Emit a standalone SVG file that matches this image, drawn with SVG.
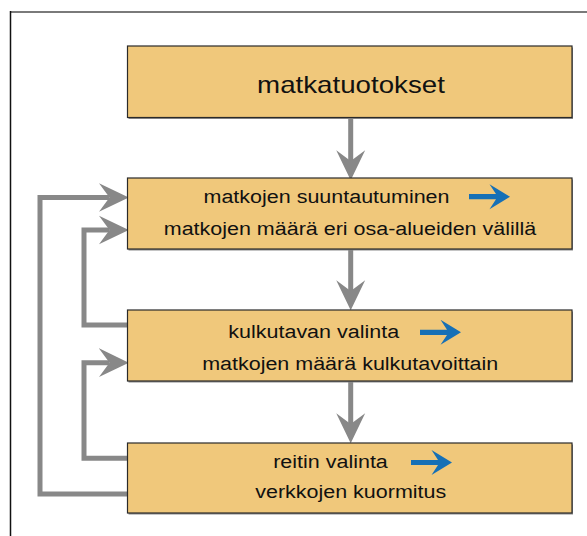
<svg xmlns="http://www.w3.org/2000/svg" width="587" height="536" viewBox="0 0 587 536">
<style>
.box{fill:#F0C87B;stroke:#2a2a2a;stroke-width:1.2}
.shadow{fill:#8a8a8a}
.t{font-family:"Liberation Sans",Arial,sans-serif;fill:#111;text-anchor:middle}
.title{font-size:23px}
.body{font-size:18px}
.conn{fill:none;stroke:#888;stroke-width:5;stroke-linejoin:miter}
</style>
<defs>
<marker id="head" markerUnits="userSpaceOnUse" markerWidth="30" markerHeight="30" viewBox="0 0 28 27" refX="10" refY="13.5" orient="auto">
<path d="M0,0 L28,13.5 L0,27 L10,13.5 Z" fill="#888"/>
</marker>
<path id="blue" d="M0,-2.6 H27 L20.5,-12.5 L41,0 L20.5,12.5 L27,2.6 H0 Z" fill="#1670B6"/>
</defs>
<rect width="587" height="536" fill="#fff"/>
<g id="frame">
<line x1="10" y1="12" x2="587" y2="12" stroke="#7a7a7a" stroke-width="2"/>
<line x1="10.5" y1="11" x2="10.5" y2="536" stroke="#111" stroke-width="1.5"/>
</g>
<g id="connectors">
<path class="conn" d="M350.7,118 V161" marker-end="url(#head)"/>
<path class="conn" d="M350.7,249 V291" marker-end="url(#head)"/>
<path class="conn" d="M350.7,381 V424" marker-end="url(#head)"/>
<path class="conn" d="M127,494 H40 V197.5 H109.5" marker-end="url(#head)"/>
<path class="conn" d="M127,325 H84 V230 H109.5" marker-end="url(#head)"/>
<path class="conn" d="M127,458.3 H84 V362.7 H109.5" marker-end="url(#head)"/>
</g>
<g id="n1">
<rect class="shadow" x="128.5" y="47.5" width="444.5" height="71.5"/>
<rect class="box" x="127.5" y="46" width="444.5" height="71.5"/>
<text class="t title" transform="translate(351,92.7) scale(1.205,1)">matkatuotokset</text>
</g>
<g id="n2">
<rect class="shadow" x="128.5" y="179.5" width="444.5" height="71"/>
<rect class="box" x="127.5" y="178" width="444.5" height="71"/>
<text class="t body" transform="translate(326.5,203.4) scale(1.194,1)">matkojen suuntautuminen</text>
<use href="#blue" transform="translate(469,196.7)"/>
<text class="t body" transform="translate(350,235) scale(1.194,1)">matkojen määrä eri osa-alueiden välillä</text>
</g>
<g id="n3">
<rect class="shadow" x="128.5" y="311.5" width="444.5" height="71"/>
<rect class="box" x="127.5" y="310" width="444.5" height="71"/>
<text class="t body" transform="translate(313.7,338.3) scale(1.194,1)">kulkutavan valinta</text>
<use href="#blue" transform="translate(420,332.3)"/>
<text class="t body" transform="translate(350.2,370) scale(1.194,1)">matkojen määrä kulkutavoittain</text>
</g>
<g id="n4">
<rect class="shadow" x="128.5" y="444.5" width="444.5" height="70"/>
<rect class="box" x="127.5" y="443" width="444.5" height="70"/>
<text class="t body" transform="translate(330.5,468.3) scale(1.194,1)">reitin valinta</text>
<use href="#blue" transform="translate(411,462.5)"/>
<text class="t body" transform="translate(350.7,498.3) scale(1.194,1)">verkkojen kuormitus</text>
</g>
</svg>
